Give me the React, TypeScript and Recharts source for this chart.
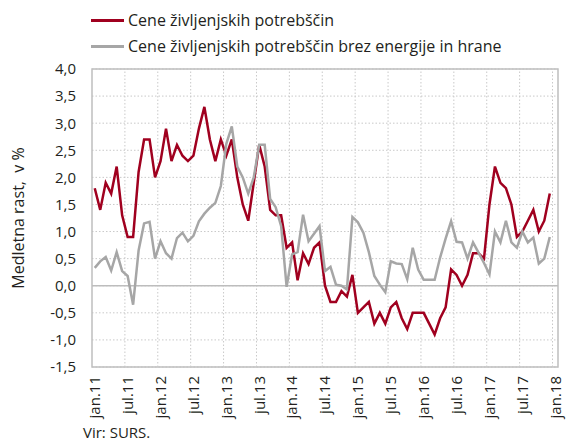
import React from 'react';
import {
  LineChart,
  Line,
  XAxis,
  YAxis,
  CartesianGrid,
  ReferenceLine,
  ReferenceArea,
} from 'recharts';

// monthly year-on-year growth, jan.11 .. dec.17
const cpi = [
  1.8, 1.4, 1.9, 1.7, 2.2, 1.3, 0.9, 0.9, 2.1, 2.7, 2.7, 2.0,
  2.3, 2.9, 2.3, 2.6, 2.4, 2.3, 2.4, 2.9, 3.3, 2.7, 2.3, 2.7,
  2.4, 2.7, 2.0, 1.5, 1.2, 1.9, 2.6, 2.2, 1.4, 1.3, 1.3, 0.7,
  0.8, 0.1, 0.6, 0.4, 0.7, 0.8, 0.0, -0.3, -0.3, -0.1, -0.2, 0.2,
  -0.5, -0.4, -0.3, -0.7, -0.5, -0.7, -0.4, -0.3, -0.6, -0.8, -0.5, -0.5,
  -0.5, -0.7, -0.9, -0.6, -0.4, 0.3, 0.2, 0.0, 0.2, 0.6, 0.6, 0.5,
  1.5, 2.2, 1.9, 1.8, 1.5, 0.9, 1.0, 1.2, 1.4, 1.0, 1.2, 1.7,
];

const core = [
  0.33, 0.45, 0.53, 0.28, 0.62, 0.27, 0.18, -0.35, 0.65, 1.15, 1.18, 0.5,
  0.82, 0.6, 0.5, 0.88, 0.98, 0.82, 0.92, 1.19, 1.33, 1.44, 1.53, 1.84,
  2.62, 2.94, 2.2, 2.0, 1.7, 2.0, 2.6, 2.6, 1.6, 1.45, 1.1, -0.02,
  0.58, 0.62, 1.31, 0.82, 0.96, 1.1, 0.27, 0.35, 0.02, 0.0, -0.07, 1.27,
  1.17, 0.98, 0.62, 0.18, 0.02, -0.12, 0.45, 0.41, 0.4, 0.12, 0.7, 0.3,
  0.11, 0.11, 0.11, 0.52, 0.87, 1.19, 0.81, 0.8, 0.5, 0.8, 0.61, 0.42,
  0.21, 1.0, 0.8, 1.2, 0.8, 0.7, 1.0, 0.8, 0.89, 0.41, 0.5, 0.9,
];

const monthNames = ['jan', 'feb', 'mar', 'apr', 'maj', 'jun', 'jul', 'avg', 'sep', 'okt', 'nov', 'dec'];
const years = ['11', '12', '13', '14', '15', '16', '17', '18'];

const tickLabels = [
  'jan.11', 'jul.11', 'jan.12', 'jul.12', 'jan.13', 'jul.13', 'jan.14', 'jul.14',
  'jan.15', 'jul.15', 'jan.16', 'jul.16', 'jan.17', 'jul.17', 'jan.18',
];

const yTicks = [-1.5, -1.0, -0.5, 0, 0.5, 1.0, 1.5, 2.0, 2.5, 3.0, 3.5, 4.0];

const seriesNames = ['Cene življenjskih potrebščin', 'Cene življenjskih potrebščin brez energije in hrane'];

const RED = '#a0001f';
const GRAY = '#a6a6a6';
const TEXT = '#231f20';
const FONT = '"Open Sans", sans-serif';

// one row per month, jan.11 .. jan.18 (last one empty)
const data = Array.from({ length: 85 }, (_, i) => ({
  i,
  month: monthNames[i % 12] + '.' + years[Math.floor(i / 12)],
  cpi: i < cpi.length ? cpi[i] : null,
  core: i < core.length ? core[i] : null,
}));

const xTicks = tickLabels.map((_, k) => k * 6);
const boundaries = tickLabels.slice(1).map((_, k) => (k + 1) * 6 - 0.5);

const XTick = ({ x, y, payload }: any) => (
  <text
    x={x}
    y={y}
    transform={`rotate(-90, ${x}, ${y})`}
    textAnchor="end"
    dy="0.36em"
    fontSize={15}
    fontFamily={FONT}
    fill={TEXT}
  >
    {tickLabels[payload.value / 6]}
  </text>
);

const fmt = (v: number) => v.toFixed(1).replace('.', ',');

export default function App() {
  return (
    <div style={{ position: 'absolute', left: 0, top: 0, width: 575, height: 445, background: '#fff', fontFamily: FONT, color: TEXT }}>
      {/* legend */}
      <div style={{ position: 'absolute', left: 91, top: 19, width: 33, height: 3, background: RED }} />
      <div style={{ position: 'absolute', left: 128, top: 9, fontSize: 16, lineHeight: '22px', whiteSpace: 'nowrap' }}>
        {seriesNames[0]}
      </div>
      <div style={{ position: 'absolute', left: 91, top: 45, width: 33, height: 3, background: GRAY }} />
      <div style={{ position: 'absolute', left: 128, top: 35, fontSize: 16, lineHeight: '22px', whiteSpace: 'nowrap' }}>
        {seriesNames[1]}
      </div>

      <LineChart width={575} height={445} data={data} margin={{ top: 69, right: 17, bottom: 0, left: 0 }}>
        <CartesianGrid vertical={false} stroke="#c9c9c9" strokeDasharray="1.5 2" />
        {boundaries.map((b) => (
          <ReferenceLine key={b} x={b} stroke="#c9c9c9" strokeDasharray="1.5 2" />
        ))}
        <ReferenceLine y={0} stroke="#bdbdbd" strokeWidth={1.5} />
        <ReferenceArea x1={-0.5} x2={84.5} y1={-1.5} y2={4} fill="none" stroke="#bfbfbf" strokeWidth={1.5} />
        <XAxis
          type="number"
          dataKey="i"
          domain={[-0.5, 84.5]}
          ticks={xTicks}
          interval={0}
          tick={<XTick />}
          tickLine={false}
          axisLine={false}
          tickSize={0}
          tickMargin={9}
          height={78}
        />
        <YAxis
          domain={[-1.5, 4]}
          ticks={yTicks}
          interval={0}
          tickFormatter={fmt}
          tickLine={false}
          axisLine={false}
          tickSize={0}
          tickMargin={16}
          width={92}
          tick={{ fontSize: 15, fill: TEXT, fontFamily: FONT }}
        />
        <Line dataKey="cpi" stroke={RED} strokeWidth={2.5} dot={false} isAnimationActive={false} />
        <Line dataKey="core" stroke={GRAY} strokeWidth={2.5} dot={false} isAnimationActive={false} />
      </LineChart>

      <div
        style={{
          position: 'absolute',
          left: 18,
          top: 218,
          transform: 'translate(-50%, -50%) rotate(-90deg)',
          fontSize: 16,
          whiteSpace: 'nowrap',
        }}
      >
        Medletna rast,&nbsp; v %
      </div>
      <div style={{ position: 'absolute', left: 83, top: 422, fontSize: 15, lineHeight: '20px' }}>Vir: SURS.</div>
    </div>
  );
}
